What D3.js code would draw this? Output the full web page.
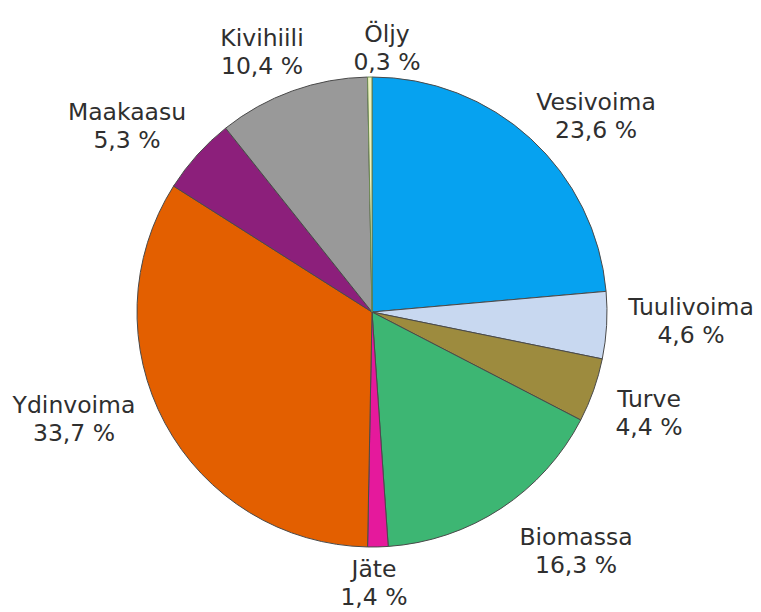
<!DOCTYPE html>
<html>
<head>
<meta charset="utf-8">
<script src="https://cdn.jsdelivr.net/npm/d3@7"></script>
<style>
  html, body { margin: 0; padding: 0; background: #fff; }
  svg { display: block; }
  text { font-family: "DejaVu Sans", Verdana, sans-serif; fill: #2f2f2f; }
</style>
</head>
<body>
<svg id="chart" width="761" height="612"></svg>
<script>
// Electricity production by source, share (%), clockwise from 12 o'clock
const sources = ["Vesivoima", "Tuulivoima", "Turve", "Biomassa", "Jäte", "Ydinvoima", "Maakaasu", "Kivihiili", "Öljy"];
const shares  = [23.6, 4.6, 4.4, 16.3, 1.4, 33.7, 5.3, 10.4, 0.3];
const colors  = ["#06a2f0", "#c8d8f0", "#9d8b3e", "#3db673", "#e5199c", "#e35f00", "#8c1f7b", "#999999", "#eef3c0"];
// label anchor (centre x, first baseline y) for each source
const labelX  = [596, 691, 649, 576, 374, 74, 127, 262, 387];
const labelY  = [110, 315, 407, 545, 577, 413, 120, 46, 42];

const data = sources.map((s, i) => ({ name: s, value: shares[i], color: colors[i], lx: labelX[i], ly: labelY[i] }));

const svg = d3.select("#chart");
const cx = 372, cy = 312, radius = 235;

const pie = d3.pie().value(d => d.value).sort(null);
const arc = d3.arc().innerRadius(0).outerRadius(radius);

const g = svg.append("g").attr("transform", `translate(${cx},${cy})`);
g.selectAll("path")
  .data(pie(data))
  .join("path")
  .attr("d", arc)
  .attr("fill", d => d.data.color)
  .attr("stroke", d => d.data.name === "Öljy" ? "#6a8a50" : "#4a4a4a")
  .attr("stroke-width", 1);

const fmt = v => d3.format(".1f")(v).replace(".", ",") + " %";

const labels = svg.append("g")
  .selectAll("text")
  .data(data)
  .join("text")
  .attr("text-anchor", "middle")
  .attr("font-size", 23.5)
  .attr("x", d => d.lx)
  .attr("y", d => d.ly);
labels.append("tspan").attr("x", d => d.lx).text(d => d.name);
labels.append("tspan").attr("x", d => d.lx).attr("dy", 28).text(d => fmt(d.value));
</script>
</body>
</html>
